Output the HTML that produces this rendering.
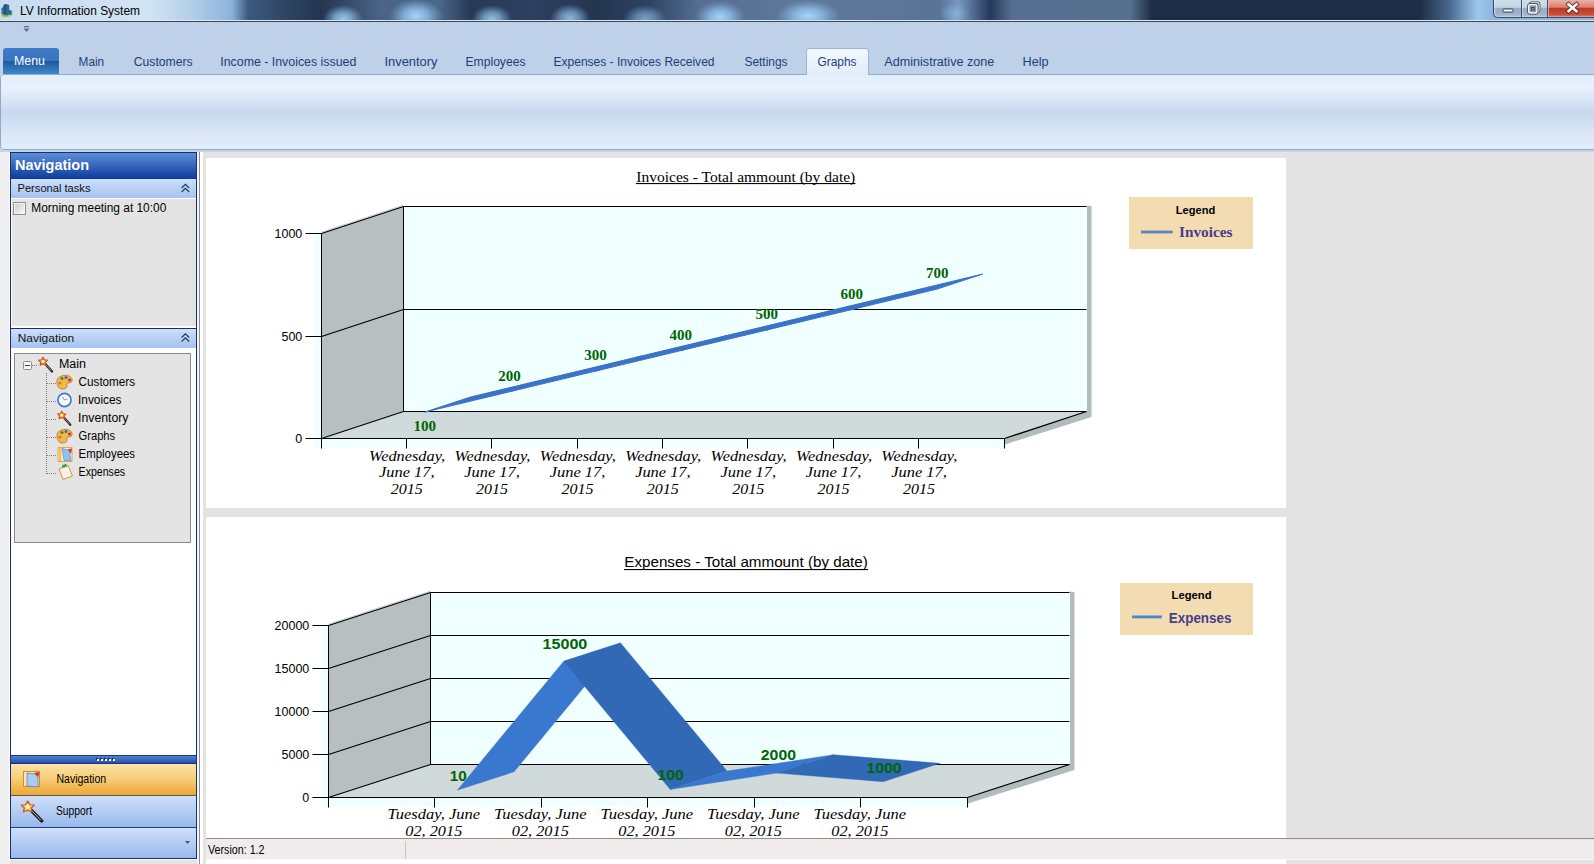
<!DOCTYPE html>
<html><head><meta charset="utf-8"><title>LV Information System</title>
<style>html,body{margin:0;padding:0;background:#e3e3e3;overflow:hidden}svg{display:block}</style>
</head><body>
<svg width="1594" height="864" viewBox="0 0 1594 864">
<defs>
<linearGradient id="gTitle" gradientUnits="userSpaceOnUse" x1="0" y1="0" x2="1594" y2="0">
 <stop offset="0.0000" stop-color="#c8dcf0"/> <stop offset="0.0941" stop-color="#d2e3f4"/> <stop offset="0.1192" stop-color="#b4cfea"/> <stop offset="0.1455" stop-color="#8cb2da"/> <stop offset="0.1556" stop-color="#3c5a7e"/> <stop offset="0.1819" stop-color="#2d4361"/> <stop offset="0.2008" stop-color="#243650"/> <stop offset="0.2384" stop-color="#4a6486"/> <stop offset="0.2760" stop-color="#4a6688"/> <stop offset="0.2949" stop-color="#283a56"/> <stop offset="0.3325" stop-color="#2c4060"/> <stop offset="0.3764" stop-color="#243650"/> <stop offset="0.4078" stop-color="#2e4464"/> <stop offset="0.4391" stop-color="#566f92"/> <stop offset="0.5019" stop-color="#5f7899"/> <stop offset="0.5897" stop-color="#5a7498"/> <stop offset="0.6010" stop-color="#7898c0"/> <stop offset="0.6211" stop-color="#27385a"/> <stop offset="0.6349" stop-color="#566e90"/> <stop offset="0.7089" stop-color="#56708f"/> <stop offset="0.7227" stop-color="#1f2c45"/> <stop offset="0.8908" stop-color="#1e2c45"/> <stop offset="0.9097" stop-color="#4a6a90"/> <stop offset="0.9272" stop-color="#a0c8ee"/> <stop offset="0.9373" stop-color="#8ab4e0"/> <stop offset="1.0000" stop-color="#8ab4e0"/>
</linearGradient>
<radialGradient id="gBlob"><stop offset="0" stop-color="#a6d6fa" stop-opacity="1"/><stop offset="0.45" stop-color="#92c4ee" stop-opacity="0.75"/><stop offset="1" stop-color="#80b0e0" stop-opacity="0"/></radialGradient>
<linearGradient id="gMenu" x1="0" y1="0" x2="0" y2="1">
 <stop offset="0" stop-color="#3f7cc9"/><stop offset="0.5" stop-color="#3a72be"/><stop offset="0.52" stop-color="#2456a0"/><stop offset="1" stop-color="#3a8cca"/>
</linearGradient>
<linearGradient id="gTabSel" x1="0" y1="0" x2="0" y2="1">
 <stop offset="0" stop-color="#f4f8fe"/><stop offset="1" stop-color="#e2ecf9"/>
</linearGradient>
<linearGradient id="gPanel" x1="0" y1="0" x2="0" y2="1">
 <stop offset="0" stop-color="#e3eefc"/><stop offset="0.18" stop-color="#e8f1fd"/><stop offset="0.35" stop-color="#d8e5f6"/>
 <stop offset="0.5" stop-color="#c8d8ee"/><stop offset="0.62" stop-color="#cfdef2"/><stop offset="0.8" stop-color="#dce8f8"/><stop offset="1" stop-color="#e2edfb"/>
</linearGradient>
<linearGradient id="gNavHead" x1="0" y1="0" x2="0" y2="1">
 <stop offset="0" stop-color="#5d8ed9"/><stop offset="1" stop-color="#0b3b9b"/>
</linearGradient>
<linearGradient id="gSubHead" x1="0" y1="0" x2="0" y2="1">
 <stop offset="0" stop-color="#cddff9"/><stop offset="1" stop-color="#a4c2f0"/>
</linearGradient>
<linearGradient id="gChk" x1="0" y1="0" x2="1" y2="1">
 <stop offset="0" stop-color="#cbcdd0"/><stop offset="1" stop-color="#f6f6f6"/>
</linearGradient>
<linearGradient id="gSplit" x1="0" y1="0" x2="0" y2="1">
 <stop offset="0" stop-color="#5a88d8"/><stop offset="1" stop-color="#1c4aa8"/>
</linearGradient>
<linearGradient id="gOrange" x1="0" y1="0" x2="0" y2="1">
 <stop offset="0" stop-color="#fce3a8"/><stop offset="0.45" stop-color="#f6cf7a"/><stop offset="1" stop-color="#eea633"/>
</linearGradient>
<linearGradient id="gBlueBtn" x1="0" y1="0" x2="0" y2="1">
 <stop offset="0" stop-color="#cfe0f9"/><stop offset="1" stop-color="#98b9ec"/>
</linearGradient>
<linearGradient id="gClose" x1="0" y1="0" x2="0" y2="1">
 <stop offset="0" stop-color="#eab0a8"/><stop offset="0.42" stop-color="#d98070"/><stop offset="0.5" stop-color="#bd3a26"/><stop offset="1" stop-color="#d05a40"/>
</linearGradient>
<linearGradient id="gWinBtn" x1="0" y1="0" x2="0" y2="1">
 <stop offset="0" stop-color="#d4e0ec"/><stop offset="0.45" stop-color="#c4d3e4"/><stop offset="0.5" stop-color="#98adc6"/><stop offset="1" stop-color="#a4b8d0"/>
</linearGradient>
</defs>
<rect x="0" y="0" width="1594" height="864" fill="#e3e3e3"/>
<rect x="0" y="152" width="10" height="712" fill="#f0efef"/>
<rect x="0" y="0" width="1594" height="21" fill="url(#gTitle)"/>
<ellipse cx="343" cy="19" rx="20" ry="14" fill="url(#gBlob)" opacity="0.9"/>
<ellipse cx="416" cy="16" rx="27" ry="17" fill="url(#gBlob)" opacity="1.0"/>
<ellipse cx="492" cy="19" rx="20" ry="14" fill="url(#gBlob)" opacity="0.85"/>
<ellipse cx="570" cy="18" rx="20" ry="14" fill="url(#gBlob)" opacity="0.8"/>
<ellipse cx="645" cy="19" rx="22" ry="14" fill="url(#gBlob)" opacity="0.65"/>
<ellipse cx="720" cy="17" rx="25" ry="16" fill="url(#gBlob)" opacity="1.0"/>
<ellipse cx="808" cy="16" rx="32" ry="16" fill="url(#gBlob)" opacity="1.0"/>
<ellipse cx="955" cy="14" rx="16" ry="12" fill="url(#gBlob)" opacity="0.4"/>
<rect x="0" y="20" width="1594" height="1" fill="#dbe6f2"/>
<rect x="0" y="21" width="1594" height="1" fill="#3b4656"/>
<path d="M1.5,14.5 Q0.5,18 7,17.2 Q12.5,16.5 13.8,11.5 Q12,15 7,15.2 Q2.5,15.3 1.5,14.5 Z" fill="#b8c840"/>
<path d="M2,15 Q4,16.5 8,16 L8,15 Q4,15.5 2,14.5 Z" fill="#6aa830"/>
<path d="M1.3,8 L3.5,7 L3.6,5 L6,4 L9.2,5 L9.3,10 L11.8,10.5 L11.8,14.5 Q7,15.6 1.5,14 Z" fill="#2a6a90"/>
<path d="M3.6,5 L6,4 L6,14.8 L3.6,14.5 Z" fill="#1e5478"/>
<path d="M2,8.5 L3.3,8 L3.3,13.5 L2,13.3 Z" fill="#4a88b0" opacity="0.7"/>
<text x="20" y="15" font-family="Liberation Sans, sans-serif" font-size="12" font-weight="normal" font-style="normal" fill="#000" text-anchor="start" textLength="120" lengthAdjust="spacingAndGlyphs" >LV Information System</text>
<path d="M1493.5,-1 L1493.5,13.5 Q1493.5,17.5 1497.5,17.5 L1595,17.5 L1595,-1 Z" fill="url(#gWinBtn)" stroke="#3d4c60" stroke-width="1"/>
<path d="M1548,0 L1594,0 L1594,17 L1548,17 Z" fill="url(#gClose)"/>
<path d="M1494.8,0 L1494.8,13.5 Q1494.8,16.3 1497.6,16.3 L1594,16.3" fill="none" stroke="#e6eef8" stroke-width="0.8" opacity="0.7"/>
<line x1="1521.5" y1="0" x2="1521.5" y2="17" stroke="#3d4c60"/><line x1="1522.5" y1="0" x2="1522.5" y2="17" stroke="#e4ecf6" opacity="0.6"/>
<line x1="1547.5" y1="0" x2="1547.5" y2="17" stroke="#3d4c60"/><line x1="1548.5" y1="0" x2="1548.5" y2="17" stroke="#f4c8c0" opacity="0.7"/>
<rect x="1503" y="9" width="10" height="3" rx="0.8" fill="#fff" stroke="#2f3a48" stroke-width="1"/>
<rect x="1530.5" y="2.8" width="8.5" height="8.5" rx="1" fill="none" stroke="#2f3a48" stroke-width="2.6"/><rect x="1530.5" y="2.8" width="8.5" height="8.5" rx="1" fill="none" stroke="#fff" stroke-width="1.2"/>
<rect x="1528.7" y="4.6" width="8.2" height="8.4" rx="1" fill="#97a9bf" stroke="#2f3a48" stroke-width="2.8"/><rect x="1528.7" y="4.6" width="8.2" height="8.4" rx="1" fill="#8e9caf" stroke="#fff" stroke-width="1.4"/>
<rect x="1531.6" y="7.5" width="2.6" height="2.6" fill="#8a98a8" stroke="#2f3a48" stroke-width="0.8"/>
<path d="M1568.5,4.3 L1576.5,11.2 M1576.5,4.3 L1568.5,11.2" stroke="#4a2a26" stroke-width="4.2" stroke-linecap="square"/><path d="M1568.5,4.3 L1576.5,11.2 M1576.5,4.3 L1568.5,11.2" stroke="#fff" stroke-width="2.6" stroke-linecap="square"/>
<rect x="0" y="22" width="1594" height="52" fill="#bfd1e8"/>
<rect x="24" y="26" width="5" height="1.3" fill="#5d6f98"/><path d="M23.5,28.5 L29.5,28.5 L26.5,32 Z" fill="#5d6f98"/>
<rect x="0.5" y="74.5" width="1600" height="75" rx="3" fill="url(#gPanel)" stroke="#8eaace" stroke-width="1"/>
<rect x="0" y="150" width="1594" height="2" fill="#c3d4ea"/>
<path d="M3,74 L3,51 Q3,48 6,48 L56,48 Q59,48 59,51 L59,74 Z" fill="url(#gMenu)"/>
<text x="14" y="65" font-family="Liberation Sans, sans-serif" font-size="12" font-weight="normal" font-style="normal" fill="#ffffff" text-anchor="start" textLength="31" lengthAdjust="spacingAndGlyphs" >Menu</text>
<path d="M806.5,75 L806.5,51 Q806.5,48.5 809,48.5 L866,48.5 Q868.5,48.5 868.5,51 L868.5,75" fill="url(#gTabSel)" stroke="#99b4d6" stroke-width="1"/>
<text x="78.6" y="65.6" font-family="Liberation Sans, sans-serif" font-size="12" font-weight="normal" font-style="normal" fill="#1e3d78" text-anchor="start" textLength="25.5" lengthAdjust="spacingAndGlyphs" >Main</text>
<text x="133.7" y="65.6" font-family="Liberation Sans, sans-serif" font-size="12" font-weight="normal" font-style="normal" fill="#1e3d78" text-anchor="start" textLength="59" lengthAdjust="spacingAndGlyphs" >Customers</text>
<text x="220.3" y="65.6" font-family="Liberation Sans, sans-serif" font-size="12" font-weight="normal" font-style="normal" fill="#1e3d78" text-anchor="start" textLength="136" lengthAdjust="spacingAndGlyphs" >Income - Invoices issued</text>
<text x="384.5" y="65.6" font-family="Liberation Sans, sans-serif" font-size="12" font-weight="normal" font-style="normal" fill="#1e3d78" text-anchor="start" textLength="53" lengthAdjust="spacingAndGlyphs" >Inventory</text>
<text x="465.5" y="65.6" font-family="Liberation Sans, sans-serif" font-size="12" font-weight="normal" font-style="normal" fill="#1e3d78" text-anchor="start" textLength="60" lengthAdjust="spacingAndGlyphs" >Employees</text>
<text x="553.5" y="65.6" font-family="Liberation Sans, sans-serif" font-size="12" font-weight="normal" font-style="normal" fill="#1e3d78" text-anchor="start" textLength="161" lengthAdjust="spacingAndGlyphs" >Expenses - Invoices Received</text>
<text x="744.5" y="65.6" font-family="Liberation Sans, sans-serif" font-size="12" font-weight="normal" font-style="normal" fill="#1e3d78" text-anchor="start" textLength="43" lengthAdjust="spacingAndGlyphs" >Settings</text>
<text x="817.5" y="65.6" font-family="Liberation Sans, sans-serif" font-size="12" font-weight="normal" font-style="normal" fill="#1e3d78" text-anchor="start" textLength="39" lengthAdjust="spacingAndGlyphs" >Graphs</text>
<text x="884.3" y="65.6" font-family="Liberation Sans, sans-serif" font-size="12" font-weight="normal" font-style="normal" fill="#1e3d78" text-anchor="start" textLength="110" lengthAdjust="spacingAndGlyphs" >Administrative zone</text>
<text x="1022.5" y="65.6" font-family="Liberation Sans, sans-serif" font-size="12" font-weight="normal" font-style="normal" fill="#1e3d78" text-anchor="start" textLength="26" lengthAdjust="spacingAndGlyphs" >Help</text>
<rect x="9" y="152" width="1" height="708" fill="#fbfcff"/>
<rect x="10" y="152" width="187" height="707" fill="#ffffff"/>
<rect x="10.5" y="152.5" width="186" height="706" fill="none" stroke="#15306a" stroke-width="1"/>
<rect x="11" y="153" width="185" height="26" fill="url(#gNavHead)"/>
<text x="15" y="169.7" font-family="Liberation Sans, sans-serif" font-size="14" font-weight="bold" font-style="normal" fill="#ffffff" text-anchor="start" textLength="74" lengthAdjust="spacingAndGlyphs" >Navigation</text>
<rect x="11" y="179" width="185" height="19" fill="url(#gSubHead)"/>
<text x="17.5" y="191.7" font-family="Liberation Sans, sans-serif" font-size="11" font-weight="normal" font-style="normal" fill="#111" text-anchor="start" textLength="73" lengthAdjust="spacingAndGlyphs" >Personal tasks</text>
<path d="M181.6,188 L185.4,184.3 L189.2,188 M181.6,192 L185.4,188.3 L189.2,192" fill="none" stroke="#1b3566" stroke-width="1.1"/>
<rect x="12" y="199" width="184" height="127" fill="#e4e4e4"/>
<rect x="13.5" y="202.5" width="12" height="12" fill="#f4f4f4" stroke="#8e8f8f" stroke-width="1"/>
<rect x="15" y="204" width="9" height="9" fill="url(#gChk)"/>
<text x="31.3" y="212" font-family="Liberation Sans, sans-serif" font-size="12" font-weight="normal" font-style="normal" fill="#000" text-anchor="start" textLength="135" lengthAdjust="spacingAndGlyphs" >Morning meeting at 10:00</text>
<rect x="11" y="328" width="185" height="1" fill="#15306a"/>
<rect x="11" y="329" width="185" height="19" fill="url(#gSubHead)"/>
<text x="17.7" y="342" font-family="Liberation Sans, sans-serif" font-size="11" font-weight="normal" font-style="normal" fill="#111" text-anchor="start" textLength="56.5" lengthAdjust="spacingAndGlyphs" >Navigation</text>
<path d="M181.6,337.5 L185.4,333.8 L189.2,337.5 M181.6,341.5 L185.4,337.8 L189.2,341.5" fill="none" stroke="#1b3566" stroke-width="1.1"/>
<rect x="14.5" y="353.5" width="176" height="189" fill="#e4e4e4" stroke="#8a8a8a" stroke-width="1"/>
<path d="M32,365.5 L38,365.5" stroke="#7a7a7a" stroke-dasharray="1,1"/>
<path d="M46.5,373 L46.5,474" stroke="#7a7a7a" stroke-dasharray="1,1"/>
<path d="M47,383.5 L56,383.5" stroke="#7a7a7a" stroke-dasharray="1,1"/>
<path d="M47,401.5 L56,401.5" stroke="#7a7a7a" stroke-dasharray="1,1"/>
<path d="M47,419.5 L56,419.5" stroke="#7a7a7a" stroke-dasharray="1,1"/>
<path d="M47,437.5 L56,437.5" stroke="#7a7a7a" stroke-dasharray="1,1"/>
<path d="M47,455.5 L56,455.5" stroke="#7a7a7a" stroke-dasharray="1,1"/>
<path d="M47,473.5 L56,473.5" stroke="#7a7a7a" stroke-dasharray="1,1"/>
<rect x="23.5" y="361.5" width="8" height="8" rx="1" fill="#f6f6f6" stroke="#8a8f96"/>
<rect x="25" y="365" width="5" height="1" fill="#2b3f70"/>
<g transform="translate(38,356.5) scale(1.0)"><path d="M6.5,6.5 L14,15" stroke="#1a1a1a" stroke-width="2.3" stroke-linecap="round"/><path d="M7,7 L13.5,14.5" stroke="#d8d8d8" stroke-width="0.6"/><path d="M5,0.8 L6.4,3.4 L9.3,3.7 L7.2,5.7 L7.8,8.6 L5,7.2 L2.2,8.6 L2.8,5.7 L0.7,3.7 L3.6,3.4 Z" fill="#f9dc50" stroke="#d4502c" stroke-width="1.3" stroke-linejoin="round"/><circle cx="5" cy="4.8" r="1.4" fill="#fff6b0"/></g>
<g transform="translate(56,374)"><path d="M1,9 Q0,3 7,1.5 Q14,0.5 16,5 Q17,9 12,9 Q10,9.5 11,12 Q11,15 6,15 Q1.5,14.5 1,9 Z" fill="#f2b84a" stroke="#b5771e" stroke-width="0.8"/><circle cx="6" cy="4.5" r="1.6" fill="#3a8a3a"/><circle cx="10" cy="3.5" r="1.5" fill="#3a6ad0"/><circle cx="13.5" cy="6" r="1.6" fill="#d03030"/><circle cx="4" cy="9" r="1.5" fill="#e07030"/></g>
<g transform="translate(56,392)"><circle cx="8.5" cy="8" r="6.6" fill="#f8faff" stroke="#3a78d8" stroke-width="1.6"/><path d="M8.5,8 L6.5,4.8 M8.5,8 L11.5,7" stroke="#8a8a9a" stroke-width="0.9"/></g>
<g transform="translate(57,410.5) scale(0.95)"><path d="M6.5,6.5 L14,15" stroke="#1a1a1a" stroke-width="2.3" stroke-linecap="round"/><path d="M7,7 L13.5,14.5" stroke="#d8d8d8" stroke-width="0.6"/><path d="M5,0.8 L6.4,3.4 L9.3,3.7 L7.2,5.7 L7.8,8.6 L5,7.2 L2.2,8.6 L2.8,5.7 L0.7,3.7 L3.6,3.4 Z" fill="#f9dc50" stroke="#d4502c" stroke-width="1.3" stroke-linejoin="round"/><circle cx="5" cy="4.8" r="1.4" fill="#fff6b0"/></g>
<g transform="translate(56,428)"><path d="M1,9 Q0,3 7,1.5 Q14,0.5 16,5 Q17,9 12,9 Q10,9.5 11,12 Q11,15 6,15 Q1.5,14.5 1,9 Z" fill="#f2b84a" stroke="#b5771e" stroke-width="0.8"/><circle cx="6" cy="4.5" r="1.6" fill="#3a8a3a"/><circle cx="10" cy="3.5" r="1.5" fill="#3a6ad0"/><circle cx="13.5" cy="6" r="1.6" fill="#d03030"/><circle cx="4" cy="9" r="1.5" fill="#e07030"/></g>
<g transform="translate(57,446)"><rect x="1" y="1.5" width="14" height="14" fill="#fdf4e0" stroke="#e0a040" stroke-width="0.9"/><rect x="1.5" y="2" width="3" height="13" fill="#f4c060"/><path d="M5,2.5 L12,4 L14,14.5 L7,14.5 Z" fill="#8ec0f0" stroke="#4a80c8" stroke-width="0.6"/><path d="M11,3 L15,2.5 L14,8 Z" fill="#e03030"/></g>
<g transform="translate(57,464)"><path d="M2,5 L11,1.5 L15.5,12 L6,15.5 Z" fill="#f6f3e6" stroke="#c8902a" stroke-width="0.9"/><rect x="5" y="0.5" width="5" height="3" rx="1" fill="#3aa84a" transform="rotate(-20 7 2)"/></g>
<text x="59" y="368.3" font-family="Liberation Sans, sans-serif" font-size="12" font-weight="normal" font-style="normal" fill="#000" text-anchor="start" textLength="27" lengthAdjust="spacingAndGlyphs" >Main</text>
<text x="78.6" y="386.3" font-family="Liberation Sans, sans-serif" font-size="12" font-weight="normal" font-style="normal" fill="#000" text-anchor="start" textLength="56.5" lengthAdjust="spacingAndGlyphs" >Customers</text>
<text x="78" y="404.3" font-family="Liberation Sans, sans-serif" font-size="12" font-weight="normal" font-style="normal" fill="#000" text-anchor="start" textLength="43.5" lengthAdjust="spacingAndGlyphs" >Invoices</text>
<text x="78" y="422.3" font-family="Liberation Sans, sans-serif" font-size="12" font-weight="normal" font-style="normal" fill="#000" text-anchor="start" textLength="50.5" lengthAdjust="spacingAndGlyphs" >Inventory</text>
<text x="78.6" y="440.3" font-family="Liberation Sans, sans-serif" font-size="12" font-weight="normal" font-style="normal" fill="#000" text-anchor="start" textLength="36.5" lengthAdjust="spacingAndGlyphs" >Graphs</text>
<text x="78.6" y="458.3" font-family="Liberation Sans, sans-serif" font-size="12" font-weight="normal" font-style="normal" fill="#000" text-anchor="start" textLength="56.5" lengthAdjust="spacingAndGlyphs" >Employees</text>
<text x="78.6" y="476.3" font-family="Liberation Sans, sans-serif" font-size="12" font-weight="normal" font-style="normal" fill="#000" text-anchor="start" textLength="46.5" lengthAdjust="spacingAndGlyphs" >Expenses</text>
<rect x="11" y="755" width="185" height="9" fill="url(#gSplit)"/>
<rect x="11" y="755" width="185" height="1" fill="#163a88"/>
<rect x="11" y="763" width="185" height="1" fill="#103480"/>
<rect x="96" y="758" width="2" height="2" fill="#0a2a78"/>
<rect x="97" y="759" width="2" height="2" fill="#ffffff"/>
<rect x="100" y="758" width="2" height="2" fill="#0a2a78"/>
<rect x="101" y="759" width="2" height="2" fill="#ffffff"/>
<rect x="104" y="758" width="2" height="2" fill="#0a2a78"/>
<rect x="105" y="759" width="2" height="2" fill="#ffffff"/>
<rect x="108" y="758" width="2" height="2" fill="#0a2a78"/>
<rect x="109" y="759" width="2" height="2" fill="#ffffff"/>
<rect x="112" y="758" width="2" height="2" fill="#0a2a78"/>
<rect x="113" y="759" width="2" height="2" fill="#ffffff"/>
<rect x="11" y="764" width="185" height="31" fill="url(#gOrange)"/>
<rect x="11" y="795" width="185" height="1" fill="#56595f"/>
<g transform="translate(23,771)"><rect x="0.5" y="0.5" width="16" height="15" fill="#fde6b0" stroke="#d08a30"/><path d="M4,2 L15,3.5 L15,16 L4,15 Z" fill="#a9cdf2" stroke="#4a7ac0" stroke-width="0.7"/><path d="M11,2 L16.5,1 L15,6 Z" fill="#e02a2a"/></g>
<text x="56.5" y="783.4" font-family="Liberation Sans, sans-serif" font-size="12" font-weight="normal" font-style="normal" fill="#000" text-anchor="start" textLength="49.6" lengthAdjust="spacingAndGlyphs" >Navigation</text>
<rect x="11" y="796" width="185" height="31" fill="url(#gBlueBtn)"/>
<rect x="11" y="827" width="185" height="1" fill="#1c3f8a"/>
<g transform="translate(20,800) scale(1.55,1.4)"><path d="M6.5,6.5 L14,15" stroke="#1a1a1a" stroke-width="2.3" stroke-linecap="round"/><path d="M7,7 L13.5,14.5" stroke="#d8d8d8" stroke-width="0.6"/><path d="M5,0.8 L6.4,3.4 L9.3,3.7 L7.2,5.7 L7.8,8.6 L5,7.2 L2.2,8.6 L2.8,5.7 L0.7,3.7 L3.6,3.4 Z" fill="#f9dc50" stroke="#d4502c" stroke-width="0.85" stroke-linejoin="round"/><circle cx="5" cy="4.8" r="1.4" fill="#fff6b0"/></g>
<text x="56" y="815.2" font-family="Liberation Sans, sans-serif" font-size="12" font-weight="normal" font-style="normal" fill="#000" text-anchor="start" textLength="36" lengthAdjust="spacingAndGlyphs" >Support</text>
<rect x="11" y="828" width="185" height="30" fill="url(#gBlueBtn)"/>
<path d="M185,841 L190,841 L187.5,844 Z" fill="#3f5a88"/>
<rect x="10" y="859" width="187" height="1" fill="#fbfcff"/>
<rect x="197" y="152" width="2" height="712" fill="#eef6ff"/>
<rect x="199" y="152" width="1" height="712" fill="#8e8e8e"/>
<rect x="200" y="152" width="3" height="712" fill="#ffffff"/>
<rect x="206" y="158" width="1080" height="350" fill="#ffffff"/>
<rect x="206" y="517" width="1080" height="347" fill="#ffffff"/>
<rect x="314" y="233" width="690.2" height="214.5" fill="#f0ffff"/>
<path d="M1086.5,205.5 L1091.5,206.0 L1091.5,417.0 L1005.0,444.5 L1004.5,438.5 L1086.5,411.5 Z" fill="#b3bcbc"/>
<rect x="403.5" y="206.5" width="683.5" height="205.0" fill="#f0ffff"/>
<path d="M321.5,233.5 L403.5,206.5 L403.5,411.5 L321.5,438.5 Z" fill="#b7bfc0"/>
<path d="M321.5,438.5 L403.5,411.5 L1086.5,411.5 L1004.5,438.5 Z" fill="#d0dada"/>
<path d="M321.5,232.2 L403.5,205.2" fill="none" stroke="#c4caca" stroke-width="1"/>
<path d="M321.5,438.50 L403.5,411.50 M321.5,336.50 L403.5,309.50 M321.5,233.50 L403.5,206.50 M1004.5,438.5 L1086.5,411.5" fill="none" stroke="#000" stroke-width="1.3"/>
<path d="M403.5,411.50 L1086.5,411.50 M403.5,309.50 L1086.5,309.50 M403.5,206.50 L1086.5,206.50 M403.5,206.5 L403.5,411.5" fill="none" stroke="#000" stroke-width="1"/>
<path d="M321.5,233.5 L321.5,448.5 M321.5,438.5 L1004.5,438.5 M406.50,438.5 L406.50,448.5 M491.50,438.5 L491.50,448.5 M577.50,438.5 L577.50,448.5 M662.50,438.5 L662.50,448.5 M747.50,438.5 L747.50,448.5 M833.50,438.5 L833.50,448.5 M918.50,438.5 L918.50,448.5 M1004.50,438.5 L1004.50,448.5 M305.5,438.50 L321.5,438.50 M305.5,336.50 L321.5,336.50 M305.5,233.50 L321.5,233.50" fill="none" stroke="#000" stroke-width="1"/>
<text x="302.3" y="442.8" font-family="Liberation Sans, sans-serif" font-size="12.3" font-weight="normal" font-style="normal" fill="#000" text-anchor="end" textLength="6.95" lengthAdjust="spacingAndGlyphs" >0</text>
<text x="302.3" y="340.8" font-family="Liberation Sans, sans-serif" font-size="12.3" font-weight="normal" font-style="normal" fill="#000" text-anchor="end" textLength="20.85" lengthAdjust="spacingAndGlyphs" >500</text>
<text x="302.3" y="237.8" font-family="Liberation Sans, sans-serif" font-size="12.3" font-weight="normal" font-style="normal" fill="#000" text-anchor="end" textLength="27.8" lengthAdjust="spacingAndGlyphs" >1000</text>
<path d="M424.75,412.11 L510.13,391.61 L555.80,376.57 L470.43,397.07 Z" fill="#3b71c6" stroke="#3b71c6" stroke-width="1.0" stroke-linejoin="round"/>
<path d="M510.13,391.61 L595.50,371.11 L641.17,356.07 L555.80,376.57 Z" fill="#3b71c6" stroke="#3b71c6" stroke-width="1.0" stroke-linejoin="round"/>
<path d="M595.50,371.11 L680.88,350.61 L726.55,335.57 L641.17,356.07 Z" fill="#3b71c6" stroke="#3b71c6" stroke-width="1.0" stroke-linejoin="round"/>
<path d="M680.88,350.61 L766.25,330.11 L811.92,315.07 L726.55,335.57 Z" fill="#3b71c6" stroke="#3b71c6" stroke-width="1.0" stroke-linejoin="round"/>
<path d="M766.25,330.11 L851.63,309.61 L897.30,294.57 L811.92,315.07 Z" fill="#3b71c6" stroke="#3b71c6" stroke-width="1.0" stroke-linejoin="round"/>
<path d="M851.63,309.61 L937.00,289.11 L982.67,274.07 L897.30,294.57 Z" fill="#3b71c6" stroke="#3b71c6" stroke-width="1.0" stroke-linejoin="round"/>
<text x="424.75" y="430.7" font-family="Liberation Serif, serif" font-size="15" font-weight="bold" font-style="normal" fill="#006400" text-anchor="middle" textLength="22.5" lengthAdjust="spacingAndGlyphs" >100</text>
<text x="509.6" y="380.8" font-family="Liberation Serif, serif" font-size="15" font-weight="bold" font-style="normal" fill="#006400" text-anchor="middle" textLength="22.5" lengthAdjust="spacingAndGlyphs" >200</text>
<text x="595.6" y="359.7" font-family="Liberation Serif, serif" font-size="15" font-weight="bold" font-style="normal" fill="#006400" text-anchor="middle" textLength="22.5" lengthAdjust="spacingAndGlyphs" >300</text>
<text x="680.8" y="339.8" font-family="Liberation Serif, serif" font-size="15" font-weight="bold" font-style="normal" fill="#006400" text-anchor="middle" textLength="22.5" lengthAdjust="spacingAndGlyphs" >400</text>
<text x="766.8" y="319" font-family="Liberation Serif, serif" font-size="15" font-weight="bold" font-style="normal" fill="#006400" text-anchor="middle" textLength="22.5" lengthAdjust="spacingAndGlyphs" >500</text>
<text x="851.7" y="298.9" font-family="Liberation Serif, serif" font-size="15" font-weight="bold" font-style="normal" fill="#006400" text-anchor="middle" textLength="22.5" lengthAdjust="spacingAndGlyphs" >600</text>
<text x="937.2" y="277.6" font-family="Liberation Serif, serif" font-size="15" font-weight="bold" font-style="normal" fill="#006400" text-anchor="middle" textLength="22.5" lengthAdjust="spacingAndGlyphs" >700</text>
<text x="407.1" y="460.8" font-family="Liberation Serif, serif" font-size="14" font-weight="normal" font-style="italic" fill="#000" text-anchor="middle" textLength="76" lengthAdjust="spacingAndGlyphs" >Wednesday,</text>
<text x="406.8" y="477.2" font-family="Liberation Serif, serif" font-size="14" font-weight="normal" font-style="italic" fill="#000" text-anchor="middle" textLength="55.5" lengthAdjust="spacingAndGlyphs" >June 17,</text>
<text x="406.7" y="493.8" font-family="Liberation Serif, serif" font-size="14" font-weight="normal" font-style="italic" fill="#000" text-anchor="middle" textLength="32" lengthAdjust="spacingAndGlyphs" >2015</text>
<text x="492.4" y="460.8" font-family="Liberation Serif, serif" font-size="14" font-weight="normal" font-style="italic" fill="#000" text-anchor="middle" textLength="76" lengthAdjust="spacingAndGlyphs" >Wednesday,</text>
<text x="492.1" y="477.2" font-family="Liberation Serif, serif" font-size="14" font-weight="normal" font-style="italic" fill="#000" text-anchor="middle" textLength="55.5" lengthAdjust="spacingAndGlyphs" >June 17,</text>
<text x="492.1" y="493.8" font-family="Liberation Serif, serif" font-size="14" font-weight="normal" font-style="italic" fill="#000" text-anchor="middle" textLength="32" lengthAdjust="spacingAndGlyphs" >2015</text>
<text x="577.8" y="460.8" font-family="Liberation Serif, serif" font-size="14" font-weight="normal" font-style="italic" fill="#000" text-anchor="middle" textLength="76" lengthAdjust="spacingAndGlyphs" >Wednesday,</text>
<text x="577.5" y="477.2" font-family="Liberation Serif, serif" font-size="14" font-weight="normal" font-style="italic" fill="#000" text-anchor="middle" textLength="55.5" lengthAdjust="spacingAndGlyphs" >June 17,</text>
<text x="577.4" y="493.8" font-family="Liberation Serif, serif" font-size="14" font-weight="normal" font-style="italic" fill="#000" text-anchor="middle" textLength="32" lengthAdjust="spacingAndGlyphs" >2015</text>
<text x="663.2" y="460.8" font-family="Liberation Serif, serif" font-size="14" font-weight="normal" font-style="italic" fill="#000" text-anchor="middle" textLength="76" lengthAdjust="spacingAndGlyphs" >Wednesday,</text>
<text x="662.9" y="477.2" font-family="Liberation Serif, serif" font-size="14" font-weight="normal" font-style="italic" fill="#000" text-anchor="middle" textLength="55.5" lengthAdjust="spacingAndGlyphs" >June 17,</text>
<text x="662.8" y="493.8" font-family="Liberation Serif, serif" font-size="14" font-weight="normal" font-style="italic" fill="#000" text-anchor="middle" textLength="32" lengthAdjust="spacingAndGlyphs" >2015</text>
<text x="748.6" y="460.8" font-family="Liberation Serif, serif" font-size="14" font-weight="normal" font-style="italic" fill="#000" text-anchor="middle" textLength="76" lengthAdjust="spacingAndGlyphs" >Wednesday,</text>
<text x="748.3" y="477.2" font-family="Liberation Serif, serif" font-size="14" font-weight="normal" font-style="italic" fill="#000" text-anchor="middle" textLength="55.5" lengthAdjust="spacingAndGlyphs" >June 17,</text>
<text x="748.2" y="493.8" font-family="Liberation Serif, serif" font-size="14" font-weight="normal" font-style="italic" fill="#000" text-anchor="middle" textLength="32" lengthAdjust="spacingAndGlyphs" >2015</text>
<text x="834.0" y="460.8" font-family="Liberation Serif, serif" font-size="14" font-weight="normal" font-style="italic" fill="#000" text-anchor="middle" textLength="76" lengthAdjust="spacingAndGlyphs" >Wednesday,</text>
<text x="833.6" y="477.2" font-family="Liberation Serif, serif" font-size="14" font-weight="normal" font-style="italic" fill="#000" text-anchor="middle" textLength="55.5" lengthAdjust="spacingAndGlyphs" >June 17,</text>
<text x="833.5" y="493.8" font-family="Liberation Serif, serif" font-size="14" font-weight="normal" font-style="italic" fill="#000" text-anchor="middle" textLength="32" lengthAdjust="spacingAndGlyphs" >2015</text>
<text x="919.3" y="460.8" font-family="Liberation Serif, serif" font-size="14" font-weight="normal" font-style="italic" fill="#000" text-anchor="middle" textLength="76" lengthAdjust="spacingAndGlyphs" >Wednesday,</text>
<text x="919.0" y="477.2" font-family="Liberation Serif, serif" font-size="14" font-weight="normal" font-style="italic" fill="#000" text-anchor="middle" textLength="55.5" lengthAdjust="spacingAndGlyphs" >June 17,</text>
<text x="918.9" y="493.8" font-family="Liberation Serif, serif" font-size="14" font-weight="normal" font-style="italic" fill="#000" text-anchor="middle" textLength="32" lengthAdjust="spacingAndGlyphs" >2015</text>
<text x="636.3" y="181.6" font-family="Liberation Serif, serif" font-size="15" font-weight="normal" font-style="normal" fill="#000" text-anchor="start" textLength="219" lengthAdjust="spacingAndGlyphs" >Invoices - Total ammount (by date)</text>
<rect x="636" y="183" width="219.5" height="1.1" fill="#000"/>
<rect x="1129" y="197" width="124" height="52" fill="#f4dcb2"/>
<text x="1175.8" y="213.9" font-family="Liberation Sans, sans-serif" font-size="11" font-weight="bold" font-style="normal" fill="#000" text-anchor="start" textLength="39.5" lengthAdjust="spacingAndGlyphs" >Legend</text>
<rect x="1141" y="230.6" width="31.7" height="2.8" fill="#5d82bf"/>
<text x="1179" y="236.7" font-family="Liberation Serif, serif" font-size="15" font-weight="bold" font-style="normal" fill="#463c8c" text-anchor="start" textLength="53.5" lengthAdjust="spacingAndGlyphs" >Invoices</text>
<rect x="322" y="625.2" width="645.2" height="181.29999999999995" fill="#f0ffff"/>
<path d="M1069.5,591.5 L1074.5,592.0 L1074.5,770.0 L968.0,803.5 L967.5,797.5 L1069.5,764.5 Z" fill="#b3bcbc"/>
<rect x="430.5" y="592.5" width="639.5" height="172.0" fill="#f0ffff"/>
<path d="M328.5,625.5 L430.5,592.5 L430.5,764.5 L328.5,797.5 Z" fill="#b7bfc0"/>
<path d="M328.5,797.5 L430.5,764.5 L1069.5,764.5 L967.5,797.5 Z" fill="#d0dada"/>
<path d="M328.5,624.2 L430.5,591.2" fill="none" stroke="#c4caca" stroke-width="1"/>
<path d="M328.5,797.50 L430.5,764.50 M328.5,754.50 L430.5,721.50 M328.5,711.50 L430.5,678.50 M328.5,668.50 L430.5,635.50 M328.5,625.50 L430.5,592.50 M967.5,797.5 L1069.5,764.5" fill="none" stroke="#000" stroke-width="1.3"/>
<path d="M430.5,764.50 L1069.5,764.50 M430.5,721.50 L1069.5,721.50 M430.5,678.50 L1069.5,678.50 M430.5,635.50 L1069.5,635.50 M430.5,592.50 L1069.5,592.50 M430.5,592.5 L430.5,764.5" fill="none" stroke="#000" stroke-width="1"/>
<path d="M328.5,625.5 L328.5,807.5 M328.5,797.5 L967.5,797.5 M434.50,797.5 L434.50,807.5 M541.50,797.5 L541.50,807.5 M647.50,797.5 L647.50,807.5 M754.50,797.5 L754.50,807.5 M860.50,797.5 L860.50,807.5 M967.50,797.5 L967.50,807.5 M312.5,797.50 L328.5,797.50 M312.5,754.50 L328.5,754.50 M312.5,711.50 L328.5,711.50 M312.5,668.50 L328.5,668.50 M312.5,625.50 L328.5,625.50" fill="none" stroke="#000" stroke-width="1"/>
<text x="309.3" y="801.8" font-family="Liberation Sans, sans-serif" font-size="12.3" font-weight="normal" font-style="normal" fill="#000" text-anchor="end" textLength="6.95" lengthAdjust="spacingAndGlyphs" >0</text>
<text x="309.3" y="758.8" font-family="Liberation Sans, sans-serif" font-size="12.3" font-weight="normal" font-style="normal" fill="#000" text-anchor="end" textLength="27.8" lengthAdjust="spacingAndGlyphs" >5000</text>
<text x="309.3" y="715.8" font-family="Liberation Sans, sans-serif" font-size="12.3" font-weight="normal" font-style="normal" fill="#000" text-anchor="end" textLength="34.75" lengthAdjust="spacingAndGlyphs" >10000</text>
<text x="309.3" y="672.8" font-family="Liberation Sans, sans-serif" font-size="12.3" font-weight="normal" font-style="normal" fill="#000" text-anchor="end" textLength="34.75" lengthAdjust="spacingAndGlyphs" >15000</text>
<text x="309.3" y="629.8" font-family="Liberation Sans, sans-serif" font-size="12.3" font-weight="normal" font-style="normal" fill="#000" text-anchor="end" textLength="34.75" lengthAdjust="spacingAndGlyphs" >20000</text>
<path d="M457.24,790.22 L563.74,661.31 L620.55,642.92 L514.05,771.84 Z" fill="#3a78cf" stroke="#3a78cf" stroke-width="0.4" stroke-linejoin="round"/>
<path d="M563.74,661.31 L670.24,789.45 L727.05,771.06 L620.55,642.92 Z" fill="#3169b6" stroke="#3169b6" stroke-width="0.4" stroke-linejoin="round"/>
<path d="M670.24,789.45 L776.74,773.11 L833.55,754.72 L727.05,771.06 Z" fill="#3a78cf" stroke="#3a78cf" stroke-width="0.4" stroke-linejoin="round"/>
<path d="M776.74,773.11 L883.24,781.71 L940.05,763.32 L833.55,754.72 Z" fill="#3169b6" stroke="#3169b6" stroke-width="0.4" stroke-linejoin="round"/>
<text x="449.8" y="781.4" font-family="Liberation Sans, sans-serif" font-size="14" font-weight="bold" font-style="normal" fill="#006400" text-anchor="start" textLength="16.9" lengthAdjust="spacingAndGlyphs" >10</text>
<text x="542.5" y="648.5" font-family="Liberation Sans, sans-serif" font-size="14" font-weight="bold" font-style="normal" fill="#006400" text-anchor="start" textLength="44.8" lengthAdjust="spacingAndGlyphs" >15000</text>
<text x="657.6" y="779.8" font-family="Liberation Sans, sans-serif" font-size="14" font-weight="bold" font-style="normal" fill="#006400" text-anchor="start" textLength="26.1" lengthAdjust="spacingAndGlyphs" >100</text>
<text x="760.8" y="759.5" font-family="Liberation Sans, sans-serif" font-size="14" font-weight="bold" font-style="normal" fill="#006400" text-anchor="start" textLength="35.2" lengthAdjust="spacingAndGlyphs" >2000</text>
<text x="866.5" y="773.2" font-family="Liberation Sans, sans-serif" font-size="14" font-weight="bold" font-style="normal" fill="#006400" text-anchor="start" textLength="35.1" lengthAdjust="spacingAndGlyphs" >1000</text>
<text x="433.8" y="819.2" font-family="Liberation Serif, serif" font-size="14" font-weight="normal" font-style="italic" fill="#000" text-anchor="middle" textLength="92.5" lengthAdjust="spacingAndGlyphs" >Tuesday, June</text>
<text x="433.8" y="835.8" font-family="Liberation Serif, serif" font-size="14" font-weight="normal" font-style="italic" fill="#000" text-anchor="middle" textLength="57" lengthAdjust="spacingAndGlyphs" >02, 2015</text>
<text x="540.3" y="819.2" font-family="Liberation Serif, serif" font-size="14" font-weight="normal" font-style="italic" fill="#000" text-anchor="middle" textLength="92.5" lengthAdjust="spacingAndGlyphs" >Tuesday, June</text>
<text x="540.3" y="835.8" font-family="Liberation Serif, serif" font-size="14" font-weight="normal" font-style="italic" fill="#000" text-anchor="middle" textLength="57" lengthAdjust="spacingAndGlyphs" >02, 2015</text>
<text x="646.8" y="819.2" font-family="Liberation Serif, serif" font-size="14" font-weight="normal" font-style="italic" fill="#000" text-anchor="middle" textLength="92.5" lengthAdjust="spacingAndGlyphs" >Tuesday, June</text>
<text x="646.8" y="835.8" font-family="Liberation Serif, serif" font-size="14" font-weight="normal" font-style="italic" fill="#000" text-anchor="middle" textLength="57" lengthAdjust="spacingAndGlyphs" >02, 2015</text>
<text x="753.3" y="819.2" font-family="Liberation Serif, serif" font-size="14" font-weight="normal" font-style="italic" fill="#000" text-anchor="middle" textLength="92.5" lengthAdjust="spacingAndGlyphs" >Tuesday, June</text>
<text x="753.3" y="835.8" font-family="Liberation Serif, serif" font-size="14" font-weight="normal" font-style="italic" fill="#000" text-anchor="middle" textLength="57" lengthAdjust="spacingAndGlyphs" >02, 2015</text>
<text x="859.8" y="819.2" font-family="Liberation Serif, serif" font-size="14" font-weight="normal" font-style="italic" fill="#000" text-anchor="middle" textLength="92.5" lengthAdjust="spacingAndGlyphs" >Tuesday, June</text>
<text x="859.8" y="835.8" font-family="Liberation Serif, serif" font-size="14" font-weight="normal" font-style="italic" fill="#000" text-anchor="middle" textLength="57" lengthAdjust="spacingAndGlyphs" >02, 2015</text>
<text x="624.3" y="567" font-family="Liberation Sans, sans-serif" font-size="15" font-weight="normal" font-style="normal" fill="#000" text-anchor="start" textLength="243.5" lengthAdjust="spacingAndGlyphs" >Expenses - Total ammount (by date)</text>
<rect x="624" y="569" width="244" height="1.1" fill="#000"/>
<rect x="1120" y="583" width="133" height="52" fill="#f4dcb2"/>
<text x="1171.6" y="599" font-family="Liberation Sans, sans-serif" font-size="11" font-weight="bold" font-style="normal" fill="#000" text-anchor="start" textLength="40" lengthAdjust="spacingAndGlyphs" >Legend</text>
<rect x="1132" y="615.5" width="29.8" height="2.8" fill="#4a86d6"/>
<text x="1168.8" y="623" font-family="Liberation Sans, sans-serif" font-size="14.5" font-weight="bold" font-style="normal" fill="#463c8c" text-anchor="start" textLength="62.6" lengthAdjust="spacingAndGlyphs" >Expenses</text>
<rect x="206" y="838" width="1388" height="1.2" fill="#8f8f8f"/>
<rect x="206" y="839.2" width="1388" height="19.8" fill="#f0eceb"/>
<rect x="206" y="859" width="1388" height="1" fill="#fafafa"/>
<rect x="405" y="841" width="1" height="18" fill="#c8c4c2"/>
<text x="208" y="854" font-family="Liberation Sans, sans-serif" font-size="12" font-weight="normal" font-style="normal" fill="#000" text-anchor="start" textLength="56.5" lengthAdjust="spacingAndGlyphs" >Version: 1.2</text>
</svg>
</body></html>
